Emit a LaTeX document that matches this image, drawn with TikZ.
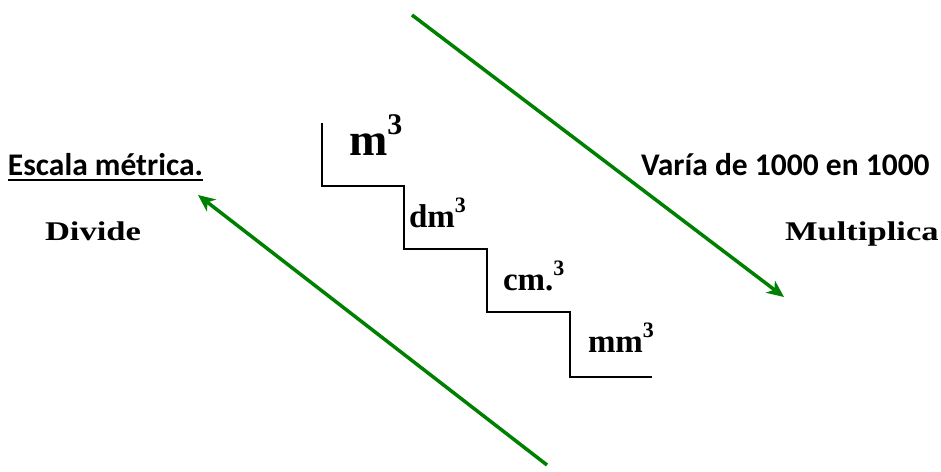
\documentclass[tikz,border=0pt]{standalone}
\usepackage{fontspec}
\setmainfont{Liberation Serif}
\newfontfamily\calfont{Carlito}
\newfontfamily\wideserif[FakeStretch=1.28]{Liberation Serif}
\newfontfamily\lblserif{Liberation Serif}
\usetikzlibrary{arrows.meta}
\definecolor{arrowgreen}{RGB}{0,128,0}
\newcommand{\cubed}[2]{#1\raisebox{0.44em}{\fontsize{#2}{#2}\selectfont 3}}
\tikzset{
  txt/.style={anchor=base west, inner sep=0pt, outer sep=0pt},
  calib/.style={txt, font=\calfont\bfseries\fontsize{31.5}{36}\selectfont},
  wide/.style={txt, font=\wideserif\bfseries\fontsize{27}{30}\selectfont},
  lbl/.style={txt, font=\lblserif\bfseries\fontsize{33}{36}\selectfont},
  biglbl/.style={txt, font=\lblserif\bfseries\fontsize{46}{50}\selectfont},
  greenarrow/.style={draw=arrowgreen, line width=3.5pt, -{Stealth[length=17pt,width=15pt,inset=5pt]}},
  stair/.style={draw=black, line width=1.6pt, line join=miter}
}
\begin{document}
\begin{tikzpicture}[x=1pt,y=-1pt]
\useasboundingbox (0,0) rectangle (941,471);
% texts
\node[calib] (esc) at (8,175) {Escala métrica.};
\draw[line width=2pt] ([yshift=-5pt]esc.base west) -- ([yshift=-5pt]esc.base east);
\node[calib] (varia) at (641,175) {Varía de 1000 en 1000};
\node[wide] (divide) at (45,240) {Divide};
\node[wide] (mult) at (785,240) {Multiplica};
\node[biglbl] (m3) at (349,155) {\cubed{m}{30}};
\node[lbl] (dm3) at (409,227) {\cubed{dm}{22}};
\node[lbl] (cm3) at (503,290) {\cubed{cm.}{22}};
\node[lbl] (mm3) at (588,352) {\cubed{mm}{22}};
% staircase
\draw[stair] (322,123) -- (322,186) -- (404,186) -- (404,249) -- (487,249)
  -- (487,312) -- (570,312) -- (570,377) -- (652,377);
% arrows
\coordinate (a1s) at (412,15);
\coordinate (a1e) at (784,297);
\coordinate (a2s) at (547,465);
\coordinate (a2e) at (198,195);
\draw[greenarrow] (a1s) -- (a1e);
\draw[greenarrow] (a2s) -- (a2e);
\end{tikzpicture}
\end{document}
